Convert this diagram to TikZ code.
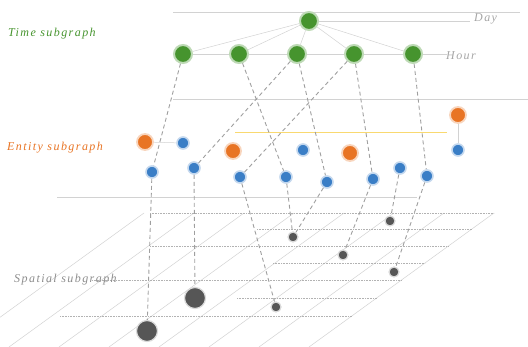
\documentclass[tikz,border=0pt]{standalone}
\usepackage{fontspec}
\newfontfamily\lblfont[LetterSpace=12]{Liberation Serif}
\usepackage{xcolor}
\usepackage{tikz}
\definecolor{tgreen}{RGB}{70,148,46}
\definecolor{eorange}{RGB}{232,116,36}
\definecolor{eblue}{RGB}{58,126,198}
\definecolor{sgray}{RGB}{86,86,86}
\tikzset{TMnode/.style={shape=circle,fill=tgreen,draw=tgreen!35,line width=2pt,minimum size=18pt,inner sep=0pt}}
\tikzset{ORnode/.style={shape=circle,fill=eorange,draw=eorange!30,line width=1.8pt,minimum size=16pt,inner sep=0pt}}
\tikzset{BLnode/.style={shape=circle,fill=eblue,draw=eblue!30,line width=1.6pt,minimum size=12pt,inner sep=0pt}}
\tikzset{SPnode/.style={shape=circle,fill=sgray,draw=gray!30,line width=1.2pt,minimum size=10pt,inner sep=0pt}}
\tikzset{SPbig/.style={SPnode,minimum size=21pt}}
\tikzset{LKline/.style={draw=gray!75,dash pattern=on 4pt off 3pt,line width=.9pt,preaction={draw=blue!12,line width=3.5pt,solid}}}
\tikzset{PLline/.style={draw=gray!35,line width=.5pt}}
\tikzset{GRdot/.style={draw=gray!60,densely dotted,line width=.6pt}}
\tikzset{LBtext/.style={font=\lblfont\itshape\fontsize{12}{14}\selectfont,inner sep=0pt}}

\begin{document}
\begin{tikzpicture}[x=1pt,y=-1pt]
	\useasboundingbox (0,0) rectangle (528,347);
	% planes
	\draw[PLline] (173,12) -- (520,12);
	\draw[PLline] (173,99) -- (528,99);
	\draw[PLline] (57,197) -- (417,197);
	\draw[draw=eorange!45!yellow!60,line width=.6pt] (235,132) -- (447,132);
	% spatial grid
	\foreach \xt in {494,444,394,344,294,244,194,144}
		\draw[PLline] (\xt,213) -- ({\xt-185},347);
	\foreach \yl/\xl in {213/150,229/257,246/150,263/273,280/92,298/237,316/60}
		\draw[GRdot] (\xl,\yl) -- ({494-1.38*(\yl-213)},\yl);
	%
	\node[TMnode] (D) at (309,21) {};
	\node[TMnode] (H1) at (183,54) {};
	\node[TMnode] (H2) at (239,54) {};
	\node[TMnode] (H3) at (297,54) {};
	\node[TMnode] (H4) at (354,54) {};
	\node[TMnode] (H5) at (413,54) {};
	\coordinate (dayend) at (470,21);
	\coordinate (hourend) at (447,54);
	%
	\node[ORnode] (O1) at (145,142) {};
	\node[ORnode] (O2) at (233,151) {};
	\node[ORnode] (O3) at (350,153) {};
	\node[ORnode] (O4) at (458,115) {};
	\node[BLnode] (E1) at (183,143) {};
	\node[BLnode] (E2) at (152,172) {};
	\node[BLnode] (E3) at (194,168) {};
	\node[BLnode] (E4) at (240,177) {};
	\node[BLnode] (E5) at (303,150) {};
	\node[BLnode] (E6) at (286,177) {};
	\node[BLnode] (E7) at (327,182) {};
	\node[BLnode] (E8) at (373,179) {};
	\node[BLnode] (E9) at (400,168) {};
	\node[BLnode] (E10) at (427,176) {};
	\node[BLnode] (E11) at (458,150) {};
	%
	\node[SPbig] (S1) at (147,331) {};
	\node[SPbig] (S2) at (195,298) {};
	\node[SPnode] (S3) at (276,307) {};
	\node[SPnode] (S4) at (293,237) {};
	\node[SPnode] (S5) at (343,255) {};
	\node[SPnode] (S6) at (394,272) {};
	\node[SPnode] (S7) at (390,221) {};
	%
	\node[LBtext,text=tgreen,anchor=west] (tlab) at (8,34) {Time subgraph};
	\node[LBtext,text=eorange,anchor=west] (elab) at (7,148) {Entity subgraph};
	\node[LBtext,text=gray!90,anchor=west] (slab) at (14,280) {Spatial subgraph};
	\node[LBtext,text=gray!70,anchor=west] (dlab) at (474,19) {Day};
	\node[LBtext,text=gray!70,anchor=west] (hlab) at (446,56) {Hour};
	%
	\path[PLline]
	(D) edge (dayend)
	(D) edge (H1) (D) edge (H2) (D) edge (H3) (D) edge (H4) (D) edge (H5)
	(H1) edge (H2) (H2) edge (H3) (H3) edge (H4) (H4) edge (H5) (H5) edge (hourend)
	(O1) edge (E1) (O4) edge (E11);
	\path[LKline]
	(H1) edge (E2)
	(H2) edge (E6)
	(H3) edge (E3)
	(H3) edge (E7)
	(H4) edge (E4)
	(H4) edge (E8)
	(H5) edge (E10)
	(E2) edge (S1)
	(E3) edge (S2)
	(E4) edge (S3)
	(E6) edge (S4)
	(E7) edge (S4)
	(E8) edge (S5)
	(E9) edge (S7)
	(E10) edge (S6);
\end{tikzpicture}
\end{document}
